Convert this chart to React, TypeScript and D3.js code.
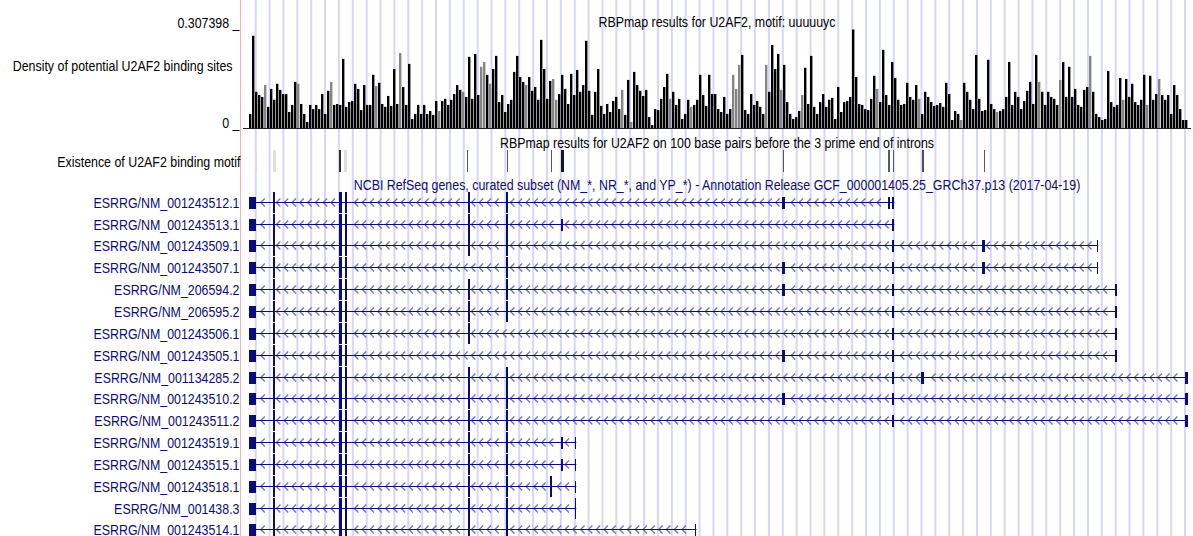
import React from 'react';
import * as d3 from 'd3';

// ---------- data ----------
const DENSITY_MAX = 0.307398;
const densityStartKb = 4.0; // first bin position (kb from window start)
const densityBinKb = 2.0;
const densityValues = [
  0.044, 0.288, 0.113, 0.103, 0.097, 0.134, 0.066, 0.122, 0.088, 0.138,
  0.119, 0.106, 0.106, 0.050, 0.072, 0.144, 0.138, 0.075, 0.044, 0.019,
  0.072, 0.059, 0.072, 0.059, 0.106, 0.044, 0.116, 0.144, 0.072, 0.075,
  0.072, 0.216, 0.066, 0.081, 0.084, 0.138, 0.122, 0.056, 0.134, 0.072,
  0.072, 0.166, 0.131, 0.141, 0.075, 0.066, 0.100, 0.069, 0.184, 0.075,
  0.234, 0.128, 0.072, 0.200, 0.028, 0.044, 0.072, 0.044, 0.072, 0.044,
  0.053, 0.041, 0.084, 0.053, 0.084, 0.091, 0.072, 0.088, 0.106, 0.134,
  0.119, 0.113, 0.097, 0.222, 0.091, 0.231, 0.103, 0.191, 0.206, 0.166,
  0.138, 0.184, 0.225, 0.081, 0.103, 0.050, 0.075, 0.088, 0.175, 0.225,
  0.159, 0.144, 0.134, 0.159, 0.116, 0.128, 0.088, 0.275, 0.184, 0.091,
  0.147, 0.153, 0.088, 0.106, 0.166, 0.122, 0.075, 0.169, 0.103, 0.181,
  0.113, 0.134, 0.272, 0.116, 0.041, 0.113, 0.184, 0.069, 0.044, 0.075,
  0.050, 0.084, 0.097, 0.059, 0.119, 0.041, 0.150, 0.019, 0.175, 0.134,
  0.116, 0.100, 0.119, 0.034, 0.009, 0.059, 0.056, 0.091, 0.128, 0.169,
  0.091, 0.113, 0.072, 0.091, 0.028, 0.044, 0.088, 0.066, 0.072, 0.088,
  0.166, 0.103, 0.069,
  0.166, 0.106, 0.106, 0.059, 0.050, 0.097, 0.044, 0.059, 0.166, 0.122,
  0.197, 0.228, 0.056, 0.044, 0.106, 0.072, 0.084, 0.066, 0.044, 0.197,
  0.113, 0.259, 0.184, 0.231, 0.119, 0.197, 0.081, 0.044, 0.028, 0.034,
  0.053, 0.103, 0.188, 0.075, 0.225, 0.066, 0.044, 0.081, 0.106, 0.066,
  0.088, 0.094, 0.028, 0.128, 0.050, 0.081, 0.084, 0.097, 0.307398, 0.159,
  0.075, 0.072, 0.059, 0.056, 0.091, 0.163, 0.122, 0.081, 0.244, 0.103,
  0.072, 0.206, 0.156, 0.088, 0.072, 0.075, 0.141, 0.097, 0.088, 0.134,
  0.091, 0.044, 0.113, 0.097, 0.081, 0.069, 0.072, 0.078, 0.066, 0.141,
  0.106, 0.025, 0.053, 0.044, 0.025, 0.141, 0.113, 0.088, 0.059, 0.228,
  0.091, 0.053, 0.056, 0.213, 0.075, 0.059, 0.050, 0.053, 0.059, 0.097,
  0.206, 0.072, 0.113, 0.097, 0.059, 0.084, 0.116, 0.144, 0.075, 0.228,
  0.144, 0.113, 0.072, 0.113, 0.097, 0.091, 0.072, 0.150, 0.206, 0.097,
  0.191, 0.097, 0.122, 0.072, 0.066, 0.119, 0.128, 0.225, 0.113, 0.044,
  0.034, 0.025, 0.028, 0.178, 0.081, 0.066, 0.072, 0.156, 0.088, 0.153,
  0.097, 0.138, 0.081, 0.072, 0.088, 0.166, 0.072, 0.163, 0.088, 0.106,
  0.153, 0.103, 0.088, 0.103, 0.044, 0.134, 0.103, 0.059, 0.025, 0.025,
];
// bins drawn in the lighter (max) shade
const densityGrayBins = [5, 16, 27, 42, 50, 63, 71, 77, 78, 80, 92, 101, 102, 124, 127, 140, 147,
  161, 162, 163, 172, 177, 184, 209, 223, 237, 249, 263, 270, 280, 291, 299, 303];

// binding motif sites (kb), with score
const motifStarts = [8.33, 19.67, 64.33, 67.33, 149.33, 175.67, 205.0, 212.33, 359.67, 430.33, 433.0, 452.67, 493.67];
const motifEnds = [9.33, 21.67, 65.33, 69.0, 150.33, 176.67, 206.0, 213.67, 360.67, 431.33, 434.0, 453.67, 494.67];
const motifScores = [0.22, 0.22, 0.85, 0.22, 0.72, 0.72, 0.72, 0.92, 0.72, 0.72, 0.72, 0.75, 0.72];

// exon catalogue (kb)
const exonStarts = [4.0, 20.2, 64.3, 67.7, 149.7, 175.3, 204.9, 211.7, 221.0, 301.2, 359.3, 430.2, 432.9, 452.3, 492.9, 569.1, 581.5, 628.3];
const exonEnds = [8.6, 21.5, 65.7, 69.0, 151.0, 176.7, 205.8, 213.3, 222.2, 302.3, 361.0, 431.2, 434.2, 454.0, 494.5, 570.2, 582.7, 629.7];

const transcriptNames = [
  'ESRRG/NM_001243512.1', 'ESRRG/NM_001243513.1', 'ESRRG/NM_001243509.1', 'ESRRG/NM_001243507.1',
  'ESRRG/NM_206594.2', 'ESRRG/NM_206595.2', 'ESRRG/NM_001243506.1', 'ESRRG/NM_001243505.1',
  'ESRRG/NM_001134285.2', 'ESRRG/NM_001243510.2', 'ESRRG/NM_001243511.2', 'ESRRG/NM_001243519.1',
  'ESRRG/NM_001243515.1', 'ESRRG/NM_001243518.1', 'ESRRG/NM_001438.3', 'ESRRG/NM_001243514.1',
];
const transcriptExons = [
  [0, 1, 2, 3, 4, 5, 10, 11, 12],
  [0, 1, 2, 3, 4, 5, 7, 12],
  [0, 1, 2, 3, 4, 5, 12, 14, 15],
  [0, 1, 2, 3, 5, 10, 12, 14, 15],
  [0, 1, 2, 3, 4, 5, 10, 12, 16],
  [0, 1, 2, 3, 4, 5, 12, 16],
  [0, 1, 2, 3, 4, 12, 16],
  [0, 1, 2, 3, 10, 12, 16],
  [0, 1, 2, 3, 4, 5, 12, 13, 17],
  [0, 1, 2, 3, 4, 5, 10, 12, 17],
  [0, 1, 2, 3, 4, 5, 12, 17],
  [0, 1, 2, 3, 4, 5, 7, 8],
  [0, 1, 2, 3, 4, 5, 7, 8],
  [0, 1, 2, 3, 4, 5, 6, 8],
  [0, 1, 2, 3, 4, 5, 8],
  [0, 1, 2, 3, 4, 5, 9],
];
const cdsStartKb = 9.0;
const cdsEndKb = [180, 180, 180, 180, 180, 180, 180, 180, 180, 180, 180, 180, 180, 207, 223, 180];

const trackTitles = [
  'RBPmap results for U2AF2, motif: uuuuuyc',
  'RBPmap results for U2AF2 on 100 base pairs before the 3 prime end of introns',
  'NCBI RefSeq genes, curated subset (NM_*, NR_*, and YP_*) - Annotation Release GCF_000001405.25_GRCh37.p13 (2017-04-19)',
];

// ---------- style ----------
const W = 1193;
const H = 536;
const NAVY = '#0c0c78';
const FONT = "'Liberation Sans', Arial, Helvetica, sans-serif";
const SQUEEZE = 0.827;

function T({ x, y, anchor = 'start', fill = '#000', children }: any) {
  return (
    <text
      transform={`translate(${x},${y}) scale(${SQUEEZE},1)`}
      textAnchor={anchor}
      fill={fill}
      fontSize={15}
      fontFamily={FONT}
    >
      {children}
    </text>
  );
}

export default function App() {
  const x = d3.scaleLinear().domain([0, 632]).range([243, 1191]);
  const yD = d3.scaleLinear().domain([0, DENSITY_MAX]).range([128, 29.5]);
  const rowY = d3.scalePoint<string>().domain(transcriptNames).range([201.7, 201.7 + 15 * 21.85]);
  const grey = (s: number) => d3.interpolateGreys(s);
  const graySet = new Set(densityGrayBins);

  // guidelines every ~9.25 kb
  const guides = d3.range(0, 68).map((k) => x(8.47 + k * 9.247));
  const binW = x(densityBinKb) - x(0);
  const centerX = (x(0) + x(632)) / 2;

  return (
    <svg
      width={W}
      height={H}
      style={{ position: 'absolute', left: 0, top: 0, background: '#fff' }}
      xmlns="http://www.w3.org/2000/svg"
    >
      <rect x={0} y={0} width={W} height={H} fill="#fff" />
      {/* guidelines */}
      {guides.map((gx, i) => (
        <line key={'g' + i} x1={gx} x2={gx} y1={0} y2={H} stroke="#d6d6fb" strokeWidth={2} />
      ))}
      {/* red separator */}
      <line x1={240.5} x2={240.5} y1={0} y2={H} stroke="#ffabab" strokeWidth={1} />

      {/* density track */}
      <g>
        {densityValues.map((v, i) => {
          const bx = x(densityStartKb + i * densityBinKb);
          return (
            <rect
              key={'d' + i}
              x={bx}
              y={yD(v)}
              width={binW - 0.6}
              height={yD(0) - yD(v)}
              fill={graySet.has(i) ? '#858585' : '#000'}
            />
          );
        })}
      </g>
      <rect x={x(0)} y={127.5} width={x(632) - x(0)} height={1} fill="#222" shapeRendering="crispEdges" />
      <T x={centerX} y={27} anchor="middle">{trackTitles[0]}</T>
      <T x={239.5} y={28} anchor="end">{DENSITY_MAX + ' _'}</T>
      <T x={239.5} y={127.5} anchor="end">{'0 _'}</T>
      <T x={232.5} y={70.5} anchor="end">Density of potential U2AF2 binding sites</T>

      {/* motif track */}
      <T x={centerX} y={147.5} anchor="middle">{trackTitles[1]}</T>
      <T x={240.5} y={166.5} anchor="end">Existence of U2AF2 binding motif</T>
      <g shapeRendering="crispEdges">
        {motifStarts.map((s, i) => (
          <rect
            key={'m' + i}
            x={x(s)}
            y={150}
            width={Math.max(1, x(motifEnds[i]) - x(s))}
            height={22}
            fill={grey(motifScores[i])}
          />
        ))}
      </g>

      {/* gene track */}
      <T x={centerX} y={190} anchor="middle" fill={NAVY}>{trackTitles[2]}</T>
      {transcriptNames.map((name, ti) => {
        const cy = Math.round(rowY(name) as number) + 0.5;
        const ex = transcriptExons[ti];
        const x0 = x(exonStarts[ex[0]]);
        const x1 = x(exonEnds[ex[ex.length - 1]]);
        const chevrons: number[] = [];
        for (let k = 0; k < ex.length - 1; k++) {
          const gs = x(exonEnds[ex[k]]);
          const ge = x(exonStarts[ex[k + 1]]);
          d3.range(x0 + 5, x1, 7.8).forEach((p) => {
            if (p - 1 > gs + 1 && p + 3 < ge - 1) chevrons.push(p);
          });
        }
        return (
          <g key={'t' + ti}>
            <T x={239.5} y={cy + 5} anchor="end" fill={NAVY}>{name}</T>
            {chevrons.map((p, k) => (
              <polyline
                key={k}
                points={`${p + 3},${cy - 4} ${p - 1},${cy} ${p + 3},${cy + 4}`}
                fill="none"
                stroke="#7070b4"
                strokeWidth={1.3}
              />
            ))}
            <line x1={x0} x2={x1} y1={cy} y2={cy} stroke={NAVY} strokeWidth={1.2} />
            <g shapeRendering="crispEdges">
              {ex.map((e) => {
                const s = exonStarts[e];
                const en = exonEnds[e];
                const tall = s >= cdsStartKb && en <= cdsEndKb[ti];
                const h = tall ? 21 : 12;
                return (
                  <rect
                    key={e}
                    x={x(s)}
                    y={cy - h / 2}
                    width={Math.max(1.2, x(en) - x(s))}
                    height={h}
                    fill={NAVY}
                  />
                );
              })}
            </g>
          </g>
        );
      })}
    </svg>
  );
}
